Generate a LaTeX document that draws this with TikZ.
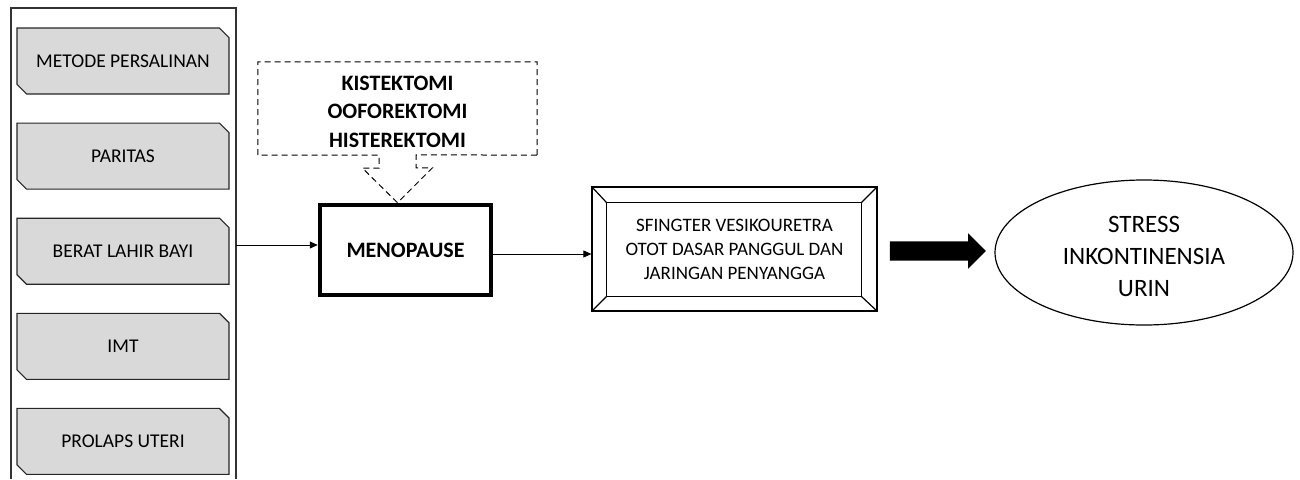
\documentclass[tikz,border=0pt]{standalone}
\usepackage{fontspec}
\setmainfont{Carlito}
\usetikzlibrary{positioning, arrows.meta, shapes.geometric, shapes.misc, shapes.arrows}

\begin{document}
\begin{tikzpicture}[
    x=1pt, y=-1pt,
    node distance=28pt and 60pt,
    factor/.style={chamfered rectangle, chamfered rectangle corners={north east, south west}, chamfered rectangle xsep=10pt, draw=black!85, fill=black!15, line width=1.1pt, minimum width=212pt, minimum height=66pt, inner sep=0pt, font=\fontsize{19.5}{23}\selectfont},
    mainbox/.style={rectangle, draw, line width=4.5pt, minimum width=171pt, minimum height=90pt, inner sep=0pt, font=\bfseries\fontsize{22}{26}\selectfont},
    surgery/.style={rectangle, minimum width=279pt, minimum height=93pt, inner sep=0pt, align=center, font=\bfseries\fontsize{22}{28.5}\selectfont},
    bevel/.style={rectangle, draw, line width=1.2pt, minimum width=285pt, minimum height=124pt, inner sep=0pt, align=center, font=\fontsize{19}{24}\selectfont},
    outcome/.style={ellipse, draw, line width=1.2pt, minimum width=298pt, minimum height=145pt, inner sep=0pt, align=center, font=\fontsize{25}{32}\selectfont},
    bigarrow/.style={single arrow, fill=black, draw=none, inner xsep=0pt, inner ysep=9.5pt, minimum height=96pt, single arrow head extend=8pt},
    link/.style={-{Triangle[length=8pt,width=7pt]}, line width=0.9pt},
    callout/.style={dashed, dash pattern=on 6pt off 4pt, line width=1pt}
]
\useasboundingbox (0,0) rectangle (1300,479);

% left column of factors
\draw[line width=1.4pt, black!80] (11,479) -- (11,8) -- (236,8) -- (236,479);
\coordinate (frameout) at (236,245);
\node[factor] (metode) at (123,61) {METODE PERSALINAN};
\node[factor, below=of metode] (paritas) {PARITAS};
\node[factor, below=of paritas] (berat) {BERAT LAHIR BAYI};
\node[factor, below=of berat] (imt) {IMT};
\node[factor, below=of imt] (prolaps) {PROLAPS UTERI};

% middle
\node[mainbox] (menopause) at (405.5,250) {MENOPAUSE};
\node[surgery] (surgery) at (397.5,108.5) {\raisebox{-3pt}[\height][\depth]{\parbox{170pt}{\centering KISTEKTOMI\\OOFOREKTOMI\\HISTEREKTOMI}}};
\draw[callout] (surgery.south east) -- (surgery.north east) -- (surgery.north west) -- (surgery.south west)
    -- ([xshift=-18.5pt]surgery.south) -- ++(0,-13pt) -- ++(-16.5pt,0) -- (surgery.south |- menopause.north)
    -- ++(35pt,35pt) -- ++(-16.5pt,0) -- ++(0,13pt) -- cycle;

% muscle box with bevel
\node[bevel] (muscle) at (734.5,249) {SFINGTER VESIKOURETRA\\OTOT DASAR PANGGUL DAN\\JARINGAN PENYANGGA};
\draw[line width=1.2pt] ([shift={(15pt,-16pt)}]muscle.north west) rectangle ([shift={(-16pt,15pt)}]muscle.south east);
\draw[line width=1.2pt] (muscle.north west) -- ([shift={(15pt,-16pt)}]muscle.north west);
\draw[line width=1.2pt] (muscle.north east) -- ([shift={(-16pt,-16pt)}]muscle.north east);
\draw[line width=1.2pt] (muscle.south west) -- ([shift={(15pt,15pt)}]muscle.south west);
\draw[line width=1.2pt] (muscle.south east) -- ([shift={(-16pt,15pt)}]muscle.south east);

% result
\node[bigarrow] (push) at (933,251) {};
\node[outcome] (outcome) at (1144,252.5) {\raisebox{-4pt}[\height][\depth]{\parbox{170pt}{\centering STRESS\\INKONTINENSIA\\URIN}}};

\coordinate (menoout) at ([yshift=-4pt]menopause.east);
\draw[link] (frameout) -- (frameout -| menopause.west);
\draw[link] (menoout) -- (menoout -| muscle.west);
\end{tikzpicture}
\end{document}
